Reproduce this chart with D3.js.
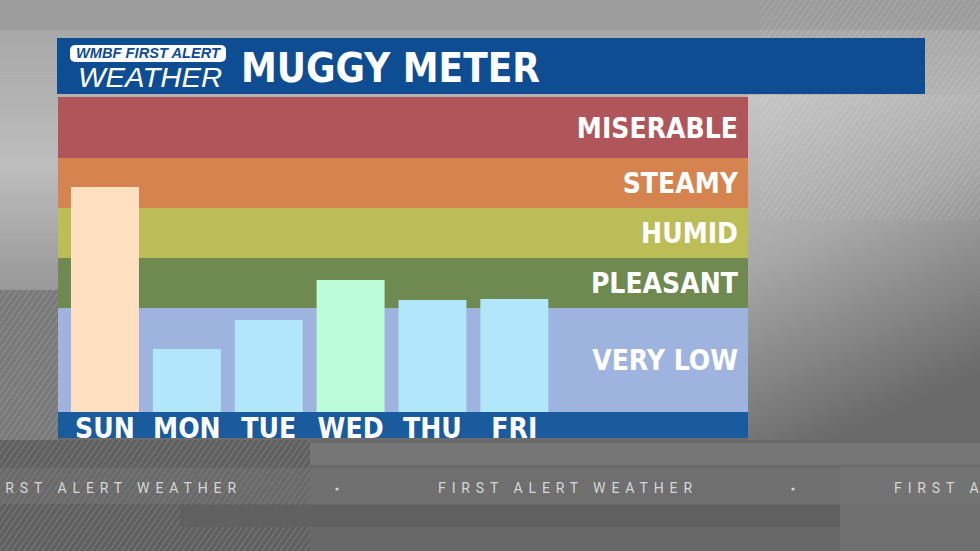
<!DOCTYPE html>
<meta charset="utf-8">
<style>
body { margin: 0; background: #777; }
svg { display: block; }
.band-label, .axis--x text, .title {
  font-family: "Liberation Sans Narrow", "DejaVu Sans Condensed", "Roboto", sans-serif;
  font-weight: bold;
  fill: #fff;
}
.axis--x path { display: none; }
.ticker { font-family: "Roboto", "Liberation Sans", sans-serif; font-size: 14px; letter-spacing: 5.9px; fill: #d6d6d6; }
</style>
<svg width="980" height="551"></svg>
<script src="https://cdn.jsdelivr.net/npm/d3@7"></script>
<script>

// days + dew point style values
var days = ["SUN", "MON", "TUE", "WED", "THU", "FRI"];
var values = [67.1, 50.9, 53.8, 57.8, 55.8, 55.9];

// comfort bands, bottom to top
var bandNames = ["VERY LOW", "PLEASANT", "HUMID", "STEAMY", "MISERABLE"];
var bandEdges = [44.6, 55, 60, 65, 70, 76.1];

var bandColors = ["#9fb3df", "#6f8a50", "#bdbd57", "#d5844f", "#b0565a"];
var barColors = ["#ffe1c2", "#b2e6fb", "#b2e6fb", "#bdfcd9", "#b2e6fb", "#b2e6fb"];

var svg = d3.select("svg"),
    panel = {left: 58, right: 748, top: 97, bottom: 412, strip: 26};

var defs = svg.append("defs");

// ---- background ----
var bg = defs.append("linearGradient").attr("id", "bg")
    .attr("x1", 0).attr("y1", 0).attr("x2", 0).attr("y2", 1);
bg.append("stop").attr("offset", 0).attr("stop-color", "#a3a3a3");
bg.append("stop").attr("offset", 0.3).attr("stop-color", "#bdbdbd");
bg.append("stop").attr("offset", 0.8).attr("stop-color", "#6c6c6c");
bg.append("stop").attr("offset", 1).attr("stop-color", "#5e5e5e");

var side = defs.append("linearGradient").attr("id", "side")
    .attr("x1", 0).attr("y1", 0).attr("x2", 0.3).attr("y2", 1);
side.append("stop").attr("offset", 0).attr("stop-color", "#c6c6c6");
side.append("stop").attr("offset", 0.45).attr("stop-color", "#a8a8a8");
side.append("stop").attr("offset", 1).attr("stop-color", "#6a6a6a");

var stripes = defs.append("pattern").attr("id", "stripes")
    .attr("patternUnits", "userSpaceOnUse").attr("width", 5).attr("height", 5)
    .attr("patternTransform", "rotate(35)");
stripes.append("rect").attr("width", 1).attr("height", 5).attr("fill", "#fff").attr("opacity", 0.16);

svg.append("rect").attr("width", 980).attr("height", 551).attr("fill", "url(#bg)");
svg.append("rect").attr("x", 0).attr("y", 0).attr("width", 980).attr("height", 30).attr("fill", "#989898").attr("opacity", 0.7);
svg.append("rect").attr("x", 748).attr("y", 95).attr("width", 232).attr("height", 350).attr("fill", "url(#side)");
svg.append("rect").attr("x", 760).attr("y", 0).attr("width", 220).attr("height", 220).attr("fill", "url(#stripes)").attr("opacity", 0.9);

// darker textured area at lower left
svg.append("rect").attr("x", 0).attr("y", 290).attr("width", 58).attr("height", 160).attr("fill", "#7a7a7a");
svg.append("rect").attr("x", 0).attr("y", 290).attr("width", 58).attr("height", 160).attr("fill", "url(#stripes)");

// bottom ticker area
svg.append("rect").attr("x", 0).attr("y", 440).attr("width", 980).attr("height", 111).attr("fill", "#686868");
svg.append("rect").attr("x", 0).attr("y", 440).attr("width", 310).attr("height", 111).attr("fill", "#606060");
svg.append("rect").attr("x", 0).attr("y", 440).attr("width", 310).attr("height", 111).attr("fill", "url(#stripes)");
svg.append("rect").attr("x", 310).attr("y", 443).attr("width", 670).attr("height", 22).attr("fill", "#767676");
svg.append("rect").attr("x", 180).attr("y", 505).attr("width", 660).attr("height", 22).attr("fill", "#606060");
svg.append("rect").attr("x", 840).attr("y", 466).attr("width", 140).attr("height", 85).attr("fill", "#6f6f6f");
svg.append("rect").attr("x", 0).attr("y", 468).attr("width", 980).attr("height", 36).attr("fill", "#7a7a7a").attr("opacity", 0.4);

var tick = svg.append("g");
[-18, 438, 894].forEach(function(x) {
  tick.append("text").attr("class", "ticker").attr("x", x).attr("y", 493).text("FIRST ALERT WEATHER");
});
[337, 793].forEach(function(x) {
  tick.append("circle").attr("cx", x).attr("cy", 489).attr("r", 1.6).attr("fill", "#d6d6d6");
});

// ---- header ----
svg.append("rect").attr("x", 57).attr("y", 38).attr("width", 868).attr("height", 56).attr("fill", "#0f4d93");
svg.append("rect").attr("x", 70).attr("y", 45).attr("width", 156).attr("height", 17).attr("rx", 5).attr("fill", "#fff");
svg.append("text").attr("x", 76).attr("y", 58)
    .attr("textLength", 144).attr("lengthAdjust", "spacingAndGlyphs")
    .style("font", "italic bold 14px 'Liberation Sans', sans-serif").attr("fill", "#0f4d93")
    .text("WMBF FIRST ALERT");
svg.append("text").attr("x", 78).attr("y", 87)
    .attr("textLength", 144).attr("lengthAdjust", "spacingAndGlyphs")
    .style("font", "italic 27px 'Liberation Sans', sans-serif").attr("fill", "#fff")
    .text("WEATHER");
svg.append("text").attr("class", "title").attr("x", 241).attr("y", 82)
    .style("font-size", "40px").text("MUGGY METER");

// ---- chart ----
var x = d3.scaleBand().domain(days).range([62.8, 556.5]).paddingInner(0.17).paddingOuter(0.1),
    y = d3.scaleLinear().domain([bandEdges[0], bandEdges[bandEdges.length - 1]]).range([panel.bottom, panel.top]);

var g = svg.append("g");

g.selectAll(".band")
  .data(bandNames)
  .enter().append("rect")
    .attr("class", "band")
    .attr("x", panel.left)
    .attr("width", panel.right - panel.left)
    .attr("y", function(d, i) { return y(bandEdges[i + 1]); })
    .attr("height", function(d, i) { return y(bandEdges[i]) - y(bandEdges[i + 1]); })
    .attr("fill", function(d, i) { return bandColors[i]; });

g.selectAll(".band-label")
  .data(bandNames)
  .enter().append("text")
    .attr("class", "band-label")
    .attr("x", panel.right - 10)
    .attr("y", function(d, i) { return y((bandEdges[i] + bandEdges[i + 1]) / 2); })
    .attr("dy", "0.36em")
    .attr("text-anchor", "end")
    .style("font-size", "28px")
    .text(function(d) { return d; });

g.selectAll(".bar")
  .data(values)
  .enter().append("rect")
    .attr("class", "bar")
    .attr("x", function(d, i) { return x(days[i]); })
    .attr("y", function(d) { return y(d); })
    .attr("width", x.bandwidth())
    .attr("height", function(d) { return panel.bottom - y(d); })
    .attr("fill", function(d, i) { return barColors[i]; });

// day strip
g.append("rect")
    .attr("x", panel.left).attr("y", panel.bottom)
    .attr("width", panel.right - panel.left).attr("height", panel.strip)
    .attr("fill", "#1a5b9e");

g.append("g")
    .attr("class", "axis axis--x")
    .attr("transform", "translate(0," + panel.bottom + ")")
    .call(d3.axisBottom(x).tickSize(0).tickPadding(6))
  .selectAll("text")
    .style("font-size", "28px")
    .attr("fill", "#fff");

</script>
